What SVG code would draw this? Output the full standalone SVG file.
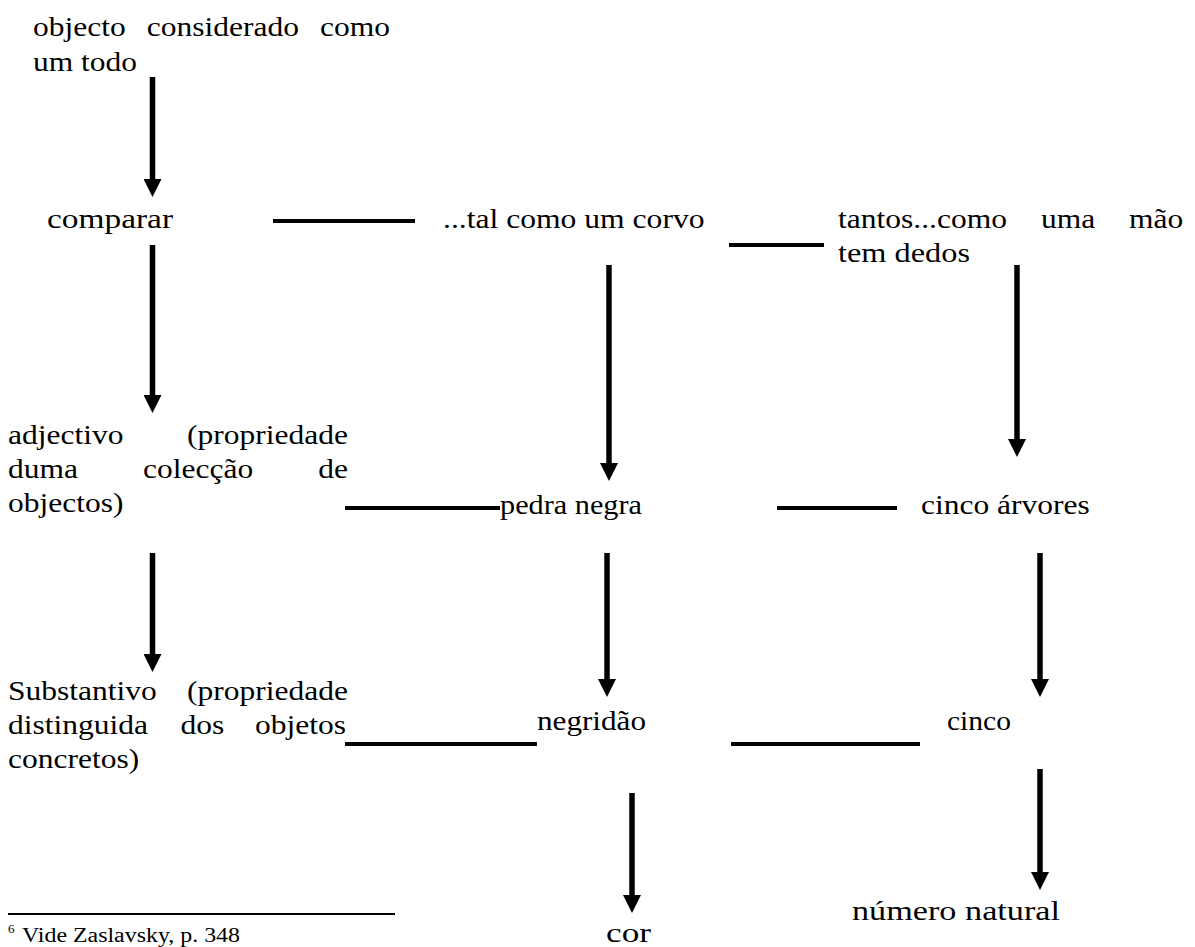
<svg xmlns="http://www.w3.org/2000/svg" width="1195" height="947" viewBox="0 0 1195 947">
<style>
.t{font-family:'Liberation Serif','Times New Roman',serif;font-size:27px;fill:#000}
.fn{font-family:'Liberation Serif','Times New Roman',serif;font-size:20px;fill:#000}
.sup{font-family:'Liberation Serif','Times New Roman',serif;font-size:13px;fill:#000}
.arr{stroke:#000;stroke-width:5.5;fill:none}
.ln{stroke:#000;stroke-width:4;fill:none}
</style>
<defs>
<marker id="ah" viewBox="0 0 18 18" markerWidth="18" markerHeight="18" markerUnits="userSpaceOnUse" refX="0" refY="9" orient="auto">
<path d="M0,0 L18,9 L0,18 z" fill="#000"/>
</marker>
</defs>
<rect width="1195" height="947" fill="#fff"/>
<g id="connectors">
<line class="arr" x1="152.5" y1="77" x2="152.5" y2="179" marker-end="url(#ah)"/>
<line class="arr" x1="152.5" y1="245" x2="152.5" y2="395" marker-end="url(#ah)"/>
<line class="arr" x1="152.5" y1="553" x2="152.5" y2="654" marker-end="url(#ah)"/>
<line class="arr" x1="609" y1="265" x2="609" y2="463" marker-end="url(#ah)"/>
<line class="arr" x1="607" y1="553" x2="607" y2="679" marker-end="url(#ah)"/>
<line class="arr" x1="632" y1="793" x2="632" y2="895" marker-end="url(#ah)"/>
<line class="arr" x1="1017" y1="265" x2="1017" y2="439" marker-end="url(#ah)"/>
<line class="arr" x1="1040" y1="553" x2="1040" y2="679" marker-end="url(#ah)"/>
<line class="arr" x1="1040" y1="769" x2="1040" y2="872" marker-end="url(#ah)"/>
<line class="ln" x1="273" y1="221" x2="415" y2="221"/>
<line class="ln" x1="729" y1="245" x2="824" y2="245"/>
<line class="ln" x1="345" y1="508" x2="500" y2="508"/>
<line class="ln" x1="777" y1="508" x2="897" y2="508"/>
<line class="ln" x1="345" y1="744" x2="537" y2="744"/>
<line class="ln" x1="731" y1="744" x2="920" y2="744"/>
</g>
<g id="node-objecto">
<text class="t" x="33" y="36" textLength="92.7" lengthAdjust="spacingAndGlyphs">objecto</text>
<text class="t" x="146.7" y="36" textLength="152.2" lengthAdjust="spacingAndGlyphs">considerado</text>
<text class="t" x="320" y="36" textLength="70" lengthAdjust="spacingAndGlyphs">como</text>
<text class="t" x="33" y="71" textLength="104.1" lengthAdjust="spacingAndGlyphs">um todo</text>
</g>
<g id="node-comparar">
<text class="t" x="47" y="228" textLength="126" lengthAdjust="spacingAndGlyphs">comparar</text>
</g>
<g id="node-corvo">
<text class="t" x="443" y="228" textLength="261.5" lengthAdjust="spacingAndGlyphs">...tal como um corvo</text>
</g>
<g id="node-tantos">
<text class="t" x="838" y="228" textLength="168.9" lengthAdjust="spacingAndGlyphs">tantos...como</text>
<text class="t" x="1041" y="228" textLength="54.2" lengthAdjust="spacingAndGlyphs">uma</text>
<text class="t" x="1129" y="228" textLength="54.2" lengthAdjust="spacingAndGlyphs">mão</text>
<text class="t" x="838" y="262" textLength="132" lengthAdjust="spacingAndGlyphs">tem dedos</text>
</g>
<g id="node-adjectivo">
<text class="t" x="8" y="444" textLength="115.5" lengthAdjust="spacingAndGlyphs">adjectivo</text>
<text class="t" x="187.1" y="444" textLength="160.9" lengthAdjust="spacingAndGlyphs">(propriedade</text>
<text class="t" x="8" y="478" textLength="70" lengthAdjust="spacingAndGlyphs">duma</text>
<text class="t" x="143" y="478" textLength="110.2" lengthAdjust="spacingAndGlyphs">colecção</text>
<text class="t" x="318.3" y="478" textLength="29.7" lengthAdjust="spacingAndGlyphs">de</text>
<text class="t" x="8" y="512" textLength="115.5" lengthAdjust="spacingAndGlyphs">objectos)</text>
</g>
<g id="node-pedra">
<text class="t" x="500" y="514" textLength="142" lengthAdjust="spacingAndGlyphs">pedra negra</text>
</g>
<g id="node-cinco-arvores">
<text class="t" x="921" y="514" textLength="168.8" lengthAdjust="spacingAndGlyphs">cinco árvores</text>
</g>
<g id="node-substantivo">
<text class="t" x="8" y="700" textLength="148.8" lengthAdjust="spacingAndGlyphs">Substantivo</text>
<text class="t" x="187.1" y="700" textLength="160.9" lengthAdjust="spacingAndGlyphs">(propriedade</text>
<text class="t" x="8" y="734" textLength="140" lengthAdjust="spacingAndGlyphs">distinguida</text>
<text class="t" x="180.6" y="734" textLength="43.8" lengthAdjust="spacingAndGlyphs">dos</text>
<text class="t" x="255" y="734" textLength="91" lengthAdjust="spacingAndGlyphs">objetos</text>
<text class="t" x="8" y="768" textLength="131.2" lengthAdjust="spacingAndGlyphs">concretos)</text>
</g>
<g id="node-negridao">
<text class="t" x="537" y="730" textLength="109" lengthAdjust="spacingAndGlyphs">negridão</text>
</g>
<g id="node-cinco">
<text class="t" x="947" y="730" textLength="64" lengthAdjust="spacingAndGlyphs">cinco</text>
</g>
<g id="node-cor">
<text class="t" x="606" y="942" textLength="45" lengthAdjust="spacingAndGlyphs">cor</text>
</g>
<g id="node-numero">
<text class="t" x="852" y="920" textLength="208" lengthAdjust="spacingAndGlyphs">número natural</text>
</g>
<g id="footnote">
<line x1="8" y1="914" x2="395" y2="914" stroke="#000" stroke-width="2"/>
<text class="sup" x="8" y="933">6</text>
<text class="fn" x="22" y="942" textLength="218" lengthAdjust="spacingAndGlyphs">Vide Zaslavsky, p. 348</text>
</g>
</svg>
